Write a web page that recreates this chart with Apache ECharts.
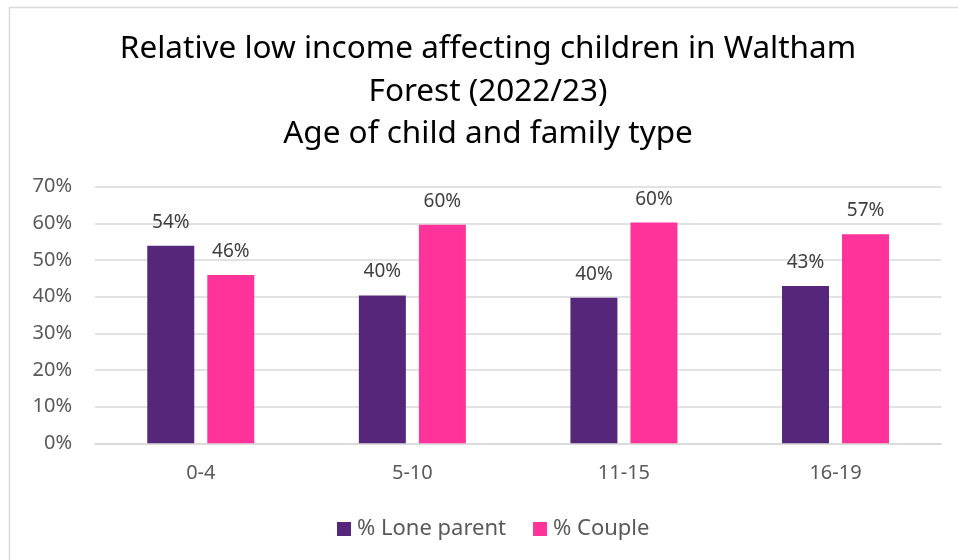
<!DOCTYPE html>
<html>
<head>
<meta charset="utf-8">
<title>Relative low income affecting children</title>
<script src="https://cdn.jsdelivr.net/npm/echarts@6/dist/echarts.min.js"></script>
<style>
  html, body { margin: 0; padding: 0; background: #fff; }
  #chart1 { width: 958px; height: 560px; }
</style>
</head>
<body>
<div id="chart1"></div>
<script>
// data
var categories = ['0-4', '5-10', '11-15', '16-19'];
var loneParent = [53.9, 40.3, 39.7, 42.9];
var couple = [45.9, 59.6, 60.2, 57.0];
var yTicks = [0, 10, 20, 30, 40, 50, 60, 70];

var FONT = 'Noto Sans';
var TXT = '#595959';

var chart = echarts.init(document.getElementById('chart1'));

function pctLabel(p) {
    return Math.round(p.value) + '%';
}

var option = {
    animation: false,
    textStyle: { fontFamily: FONT },
    graphic: [
        {
            // thin frame (only top + left edges show in the picture)
            type: 'rect',
            shape: { x: 9.5, y: 7.5, width: 1200, height: 800 },
            style: { fill: 'none', stroke: '#d9d9d9', lineWidth: 1.5 },
            silent: true
        },
        {
            type: 'text',
            x: 488,
            y: 28,
            style: {
                text: 'Relative low income affecting children in Waltham\nForest (2022/23)\nAge of child and family type',
                font: '31.5px "' + FONT + '"',
                fill: '#000',
                align: 'center',
                lineHeight: 42.5
            }
        }
    ],
    legend: {
        left: 337,
        top: 518,
        padding: 0,
        itemWidth: 14,
        itemHeight: 14,
        itemGap: 27,
        icon: 'rect',
        textStyle: { color: TXT, fontSize: 22, fontFamily: FONT, padding: [0, 0, 0, 1] },
        data: ['% Lone parent', '% Couple']
    },
    grid: {
        left: 95,
        right: 16.7,
        top: 186.7,
        bottom: 116.7
    },
    xAxis: {
        type: 'category',
        data: categories,
        axisTick: { show: false },
        axisLine: { lineStyle: { color: '#d9d9d9', width: 1.5 } },
        axisLabel: { color: TXT, fontSize: 20, margin: 20 }
    },
    yAxis: {
        type: 'value',
        min: yTicks[0],
        max: yTicks[yTicks.length - 1],
        interval: 10,
        axisLine: { show: false },
        axisTick: { show: false },
        splitLine: { lineStyle: { color: '#d9d9d9', width: 1.5 } },
        axisLabel: { color: TXT, fontSize: 20, margin: 23, formatter: '{value}%' }
    },
    series: [
        {
            name: '% Lone parent',
            type: 'bar',
            data: loneParent,
            barWidth: 47,
            barGap: '27.7%',
            itemStyle: { color: '#56267b' },
            label: { show: true, position: 'top', distance: 14, color: '#404040', fontSize: 19, formatter: pctLabel }
        },
        {
            name: '% Couple',
            type: 'bar',
            data: couple,
            barWidth: 47,
            barGap: '27.7%',
            itemStyle: { color: '#ff3399' },
            label: { show: true, position: 'top', distance: 14, color: '#404040', fontSize: 19, formatter: pctLabel }
        }
    ]
};

chart.setOption(option, true);
</script>
</body>
</html>
